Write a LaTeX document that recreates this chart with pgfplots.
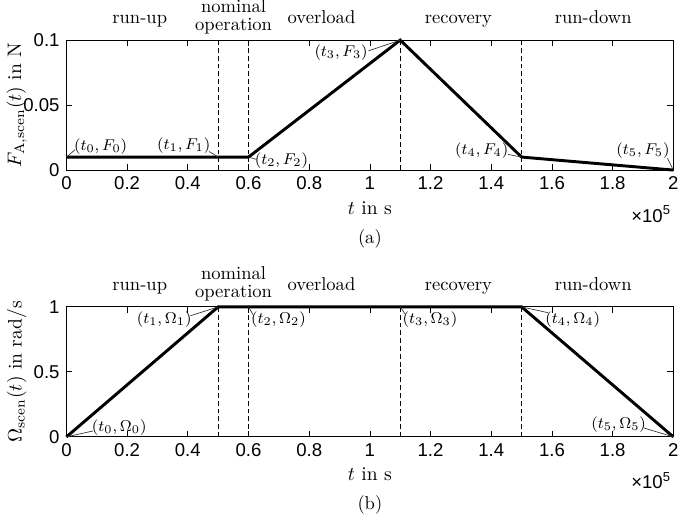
\documentclass[border=0pt]{standalone}
\usepackage{fontspec}
\newfontfamily\ticksf{Liberation Sans}
\usepackage{pgfplots}
\pgfplotsset{compat=1.18}

\pgfplotsset{
  scen/.style={
    scale only axis, width=310.5pt, height=66.5pt,
    xmin=0, xmax=200000,
    xtick={0,20000,40000,60000,80000,100000,120000,140000,160000,180000,200000},
    scaled x ticks=base 10:-5,
    xtick scale label code/.code={},
    scaled y ticks=false,
    yticklabel style={/pgf/number format/fixed},
    tick align=inside, xtick pos=both, ytick pos=both,
    major tick length=3pt,
    tick label style={font=\ticksf\fontsize{9.5}{10}\selectfont},
    /pgf/number format/assume math mode=true,
    xlabel={$t$ in s},
    xlabel style={at={(axis description cs:0.5,-0.29)}, anchor=center},
    ylabel style={at={(axis description cs:-0.082,0.5)}, anchor=center},
    label style={font=\fontsize{10}{11}\selectfont},
    clip=false,
    axis line style={line width=0.5pt},
    every tick/.style={black, line width=0.4pt},
  },
}
\tikzset{
  main/.style={black, line width=1.5pt},
  sep/.style={black, line width=0.5pt, dash pattern=on 2.5pt off 1.5pt},
  lead/.style={black!80, line width=0.35pt},
  pl/.style={font=\fontsize{8}{9}\selectfont, inner sep=0.5pt},
  ph/.style={font=\fontsize{9.5}{10}\selectfont},
}

\newcommand\phases{%
  \node[ph, anchor=base] at (rel axis cs:0.1208,1) [yshift=8.5pt] {run-up};
  \node[ph, anchor=center, align=center, inner sep=0pt] at (rel axis cs:0.2754,1) [yshift=11.8pt]
    {nominal\\[-1pt]operation};
  \node[ph, anchor=base] at (rel axis cs:0.4203,1) [yshift=8.5pt] {overload};
  \node[ph, anchor=base] at (rel axis cs:0.6458,1) [yshift=8.5pt] {recovery};
  \node[ph, anchor=base] at (rel axis cs:0.868,1) [yshift=8.5pt] {run-down};
  \draw[sep] (rel axis cs:0.25,0) -- (rel axis cs:0.25,1);
  \draw[sep] (rel axis cs:0.30,0) -- (rel axis cs:0.30,1);
  \draw[sep] (rel axis cs:0.55,0) -- (rel axis cs:0.55,1);
  \draw[sep] (rel axis cs:0.75,0) -- (rel axis cs:0.75,1);
  \node[anchor=north east, inner sep=0pt, font=\ticksf\fontsize{9.5}{10}\selectfont]
    at (rel axis cs:1,0) [yshift=-18pt, xshift=-1pt] {×10\textsuperscript{5}};
}

\begin{document}
\begin{tikzpicture}

% (a) force scenario
\begin{axis}[scen,
  ymin=0, ymax=0.1, ytick={0,0.05,0.1},
  ylabel={$F_{\mathrm{A,scen}}(t)$ in N},
]
  \addplot[main, no marks] coordinates {
    (0,0.01) (50000,0.01) (60000,0.01) (110000,0.1) (150000,0.01) (200000,0)
  };
  \phases
  \draw[lead] (axis cs:0,0.01) -- (axis cs:2900,0.0158);
  \node[pl] at (axis cs:11272,0.0181) {$(t_0,F_0)$};
  \draw[lead] (axis cs:50000,0.01) -- (axis cs:47020,0.0143);
  \node[pl] at (axis cs:38647,0.0188) {$(t_1,F_1)$};
  \draw[lead] (axis cs:60000,0.01) -- (axis cs:62480,0.0083);
  \node[pl] at (axis cs:70853,0.0075) {$(t_2,F_2)$};
  \draw[lead] (axis cs:110000,0.1) -- (axis cs:99517,0.0917);
  \node[pl] at (axis cs:90500,0.0902) {$(t_3,F_3)$};
  \draw[lead] (axis cs:150000,0.01) -- (axis cs:145571,0.0120);
  \node[pl] at (axis cs:136876,0.0150) {$(t_4,F_4)$};
  \draw[lead] (axis cs:200000,0) -- (axis cs:198067,0.0090);
  \node[pl] at (axis cs:190015,0.0150) {$(t_5,F_5)$};
  \node[ph] at (rel axis cs:0.5,0) [yshift=-35pt] {(a)};
\end{axis}

% (b) speed scenario
\begin{axis}[scen, at={(0,-136.5pt)},
  ymin=0, ymax=1, ytick={0,0.5,1},
  ylabel={$\Omega_{\mathrm{scen}}(t)$ in rad/s},
]
  \addplot[main, no marks] coordinates {
    (0,0) (50000,1) (60000,1) (110000,1) (150000,1) (200000,0)
  };
  \phases
  \draw[lead] (axis cs:0,0) -- (axis cs:8700,0.045);
  \node[pl] at (axis cs:17391,0.075) {$(t_0,\Omega_0)$};
  \draw[lead] (axis cs:50000,1) -- (axis cs:40900,0.932);
  \node[pl] at (axis cs:32206,0.902) {$(t_1,\Omega_1)$};
  \draw[lead] (axis cs:60000,1) -- (axis cs:61513,0.94);
  \node[pl] at (axis cs:69887,0.902) {$(t_2,\Omega_2)$};
  \draw[lead] (axis cs:110000,1) -- (axis cs:111755,0.94);
  \node[pl] at (axis cs:119807,0.902) {$(t_3,\Omega_3)$};
  \draw[lead] (axis cs:150000,1) -- (axis cs:158776,0.955);
  \node[pl] at (axis cs:166828,0.902) {$(t_4,\Omega_4)$};
  \draw[lead] (axis cs:200000,0) -- (axis cs:190338,0.068);
  \node[pl] at (axis cs:181965,0.098) {$(t_5,\Omega_5)$};
  \node[ph] at (rel axis cs:0.5,0) [yshift=-35pt] {(b)};
\end{axis}

\end{tikzpicture}
\end{document}
